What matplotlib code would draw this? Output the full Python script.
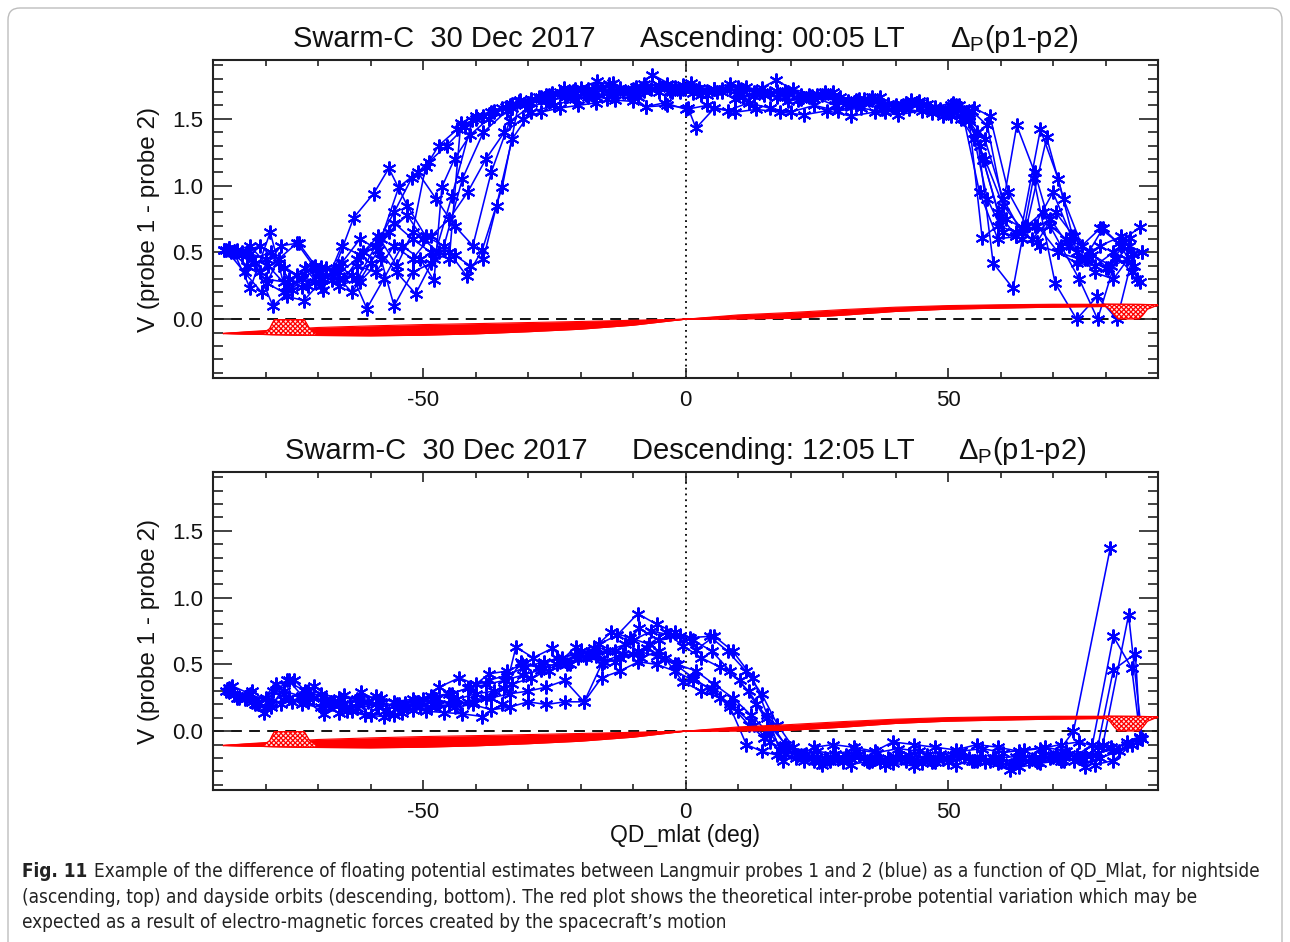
import numpy as np
import matplotlib
matplotlib.use('Agg')
import matplotlib.pyplot as plt
from matplotlib.patches import FancyBboxPatch
from matplotlib.transforms import IdentityTransform
from matplotlib import font_manager
from matplotlib.font_manager import FontProperties

# ---------------- DATA ----------------
# Ascending orbits (top panel): latitude (deg) and V (probe1 - probe2)
asc_lat_1 = [-88.0, -84.5, -81.0, -77.5, -74.0, -70.5, -67.0, -63.2, -59.4, -56.5, -53.0, -49.5, -46.0, -42.5, -38.5, -34.0, -30.0, -26.0, -21.5, -17.0, -12.5, -8.0, -3.5, 1.0, 5.5, 10.0, 14.5, 19.0, 23.5, 28.0, 32.5, 37.0, 41.5, 46.0, 50.0, 53.0, 56.0, 59.5, 63.0, 66.5, 70.0, 73.5, 77.0, 80.5, 84.0, 87.0]
asc_v_1 = [0.52, 0.50, 0.55, 0.42, 0.33, 0.28, 0.36, 0.76, 0.94, 1.13, 0.85, 0.62, 0.55, 1.05, 1.40, 1.56, 1.62, 1.68, 1.71, 1.74, 1.72, 1.76, 1.75, 1.77, 1.72, 1.74, 1.70, 1.71, 1.66, 1.67, 1.64, 1.62, 1.60, 1.58, 1.56, 1.50, 0.95, 0.60, 0.62, 0.70, 0.95, 0.62, 0.50, 0.38, 0.45, 0.50]
asc_lat_2 = [-87.0, -83.2, -79.8, -76.5, -73.0, -69.5, -66.0, -62.5, -59.0, -55.5, -52.1, -48.8, -45.5, -42.0, -38.5, -35.0, -31.5, -27.5, -23.1, -19.0, -14.5, -10.0, -6.3, -2.0, 2.5, 7.0, 11.5, 16.0, 20.5, 25.0, 29.5, 34.0, 38.5, 43.0, 47.5, 51.0, 54.0, 57.0, 60.5, 64.0, 67.6, 71.0, 74.5, 78.0, 81.5, 85.0]
asc_v_2 = [0.53, 0.49, 0.27, 0.20, 0.31, 0.39, 0.25, 0.30, 0.55, 0.80, 1.06, 1.18, 1.30, 1.44, 1.52, 1.58, 1.64, 1.66, 1.73, 1.70, 1.76, 1.72, 1.83, 1.74, 1.73, 1.70, 1.74, 1.69, 1.72, 1.68, 1.66, 1.65, 1.61, 1.64, 1.59, 1.62, 1.48, 1.20, 0.85, 0.68, 1.42, 1.05, 0.50, 0.35, 0.30, 0.49]
asc_lat_3 = [-86.0, -82.9, -79.1, -75.9, -72.7, -69.0, -65.5, -62.0, -58.5, -55.0, -51.4, -48.0, -44.5, -40.6, -37.0, -33.5, -30.0, -26.6, -22.5, -18.5, -14.0, -9.5, -5.0, -0.5, 4.0, 8.5, 13.0, 17.3, 22.0, 26.5, 31.0, 35.5, 40.0, 44.5, 48.5, 52.0, 55.0, 58.0, 61.5, 65.0, 68.8, 72.0, 75.5, 79.0, 82.5, 86.6]
asc_v_3 = [0.50, 0.23, 0.65, 0.17, 0.14, 0.30, 0.42, 0.60, 0.52, 0.35, 0.19, 0.45, 0.92, 1.49, 1.55, 1.60, 1.62, 1.68, 1.67, 1.72, 1.69, 1.74, 1.70, 1.75, 1.71, 1.76, 1.70, 1.79, 1.68, 1.70, 1.63, 1.66, 1.58, 1.62, 1.57, 1.60, 1.58, 1.52, 0.95, 0.70, 1.36, 0.90, 0.55, 0.68, 0.57, 0.69]
asc_lat_4 = [-85.5, -82.0, -78.6, -75.0, -71.2, -67.4, -63.5, -60.7, -57.5, -54.0, -50.5, -47.9, -46.4, -44.0, -41.0, -37.5, -34.2, -30.5, -26.5, -22.0, -17.5, -13.9, -9.5, -5.0, -0.5, 4.0, 8.5, 13.0, 17.5, 22.0, 26.5, 31.0, 35.5, 40.0, 44.5, 49.0, 52.5, 55.5, 58.6, 62.4, 66.3, 70.4, 74.5, 78.4, 82.2, 85.3]
asc_v_4 = [0.52, 0.42, 0.10, 0.22, 0.39, 0.29, 0.33, 0.08, 0.30, 0.55, 0.45, 0.29, 0.99, 1.20, 1.38, 1.50, 1.59, 1.60, 1.65, 1.70, 1.71, 1.77, 1.69, 1.75, 1.72, 1.68, 1.73, 1.67, 1.71, 1.65, 1.69, 1.62, 1.64, 1.60, 1.63, 1.55, 1.57, 1.40, 0.42, 0.23, 1.06, 0.27, 0.00, 0.17, 0.00, 0.49]
asc_lat_5 = [-87.5, -84.0, -80.7, -77.5, -74.0, -70.0, -66.0, -62.0, -58.0, -55.5, -52.0, -48.5, -45.0, -41.6, -38.7, -34.9, -31.7, -28.0, -24.0, -20.0, -16.0, -12.0, -7.5, -3.0, 1.5, 6.0, 10.5, 15.0, 19.5, 24.0, 28.5, 33.0, 37.5, 42.0, 46.5, 50.5, 53.6, 56.7, 60.0, 63.1, 66.5, 69.5, 72.5, 76.0, 79.5, 83.0, 86.5]
asc_v_5 = [0.52, 0.35, 0.20, 0.45, 0.57, 0.35, 0.40, 0.28, 0.45, 0.10, 0.35, 0.42, 0.50, 0.32, 0.52, 0.99, 1.63, 1.66, 1.70, 1.73, 1.72, 1.70, 1.74, 1.71, 1.73, 1.70, 1.72, 1.68, 1.70, 1.66, 1.64, 1.65, 1.60, 1.62, 1.58, 1.60, 1.55, 1.19, 0.75, 1.45, 1.10, 0.70, 0.60, 0.45, 0.68, 0.55, 0.28]
asc_lat_6 = [-86.5, -83.0, -79.5, -76.0, -72.5, -69.0, -65.5, -62.0, -58.5, -55.0, -52.0, -49.5, -47.0, -43.5, -40.0, -36.5, -33.0, -29.5, -25.5, -21.0, -16.8, -12.5, -8.0, -3.5, 1.0, 5.5, 10.0, 14.5, 19.0, 23.5, 28.0, 32.5, 37.0, 41.5, 46.0, 50.0, 53.0, 56.0, 59.5, 63.0, 67.0, 71.0, 75.0, 79.0, 83.0, 86.0]
asc_v_6 = [0.50, 0.55, 0.40, 0.25, 0.38, 0.22, 0.55, 0.48, 0.62, 0.40, 0.65, 1.14, 1.30, 1.42, 1.50, 1.55, 1.61, 1.65, 1.69, 1.72, 1.78, 1.73, 1.71, 1.76, 1.74, 1.72, 1.69, 1.73, 1.66, 1.68, 1.70, 1.60, 1.66, 1.58, 1.61, 1.57, 1.55, 1.30, 0.80, 0.62, 0.70, 0.50, 0.45, 0.55, 0.62, 0.30]
asc_lat_7 = [-88.0, -84.5, -81.0, -77.0, -73.7, -70.5, -67.0, -63.5, -60.0, -56.5, -53.0, -50.0, -47.0, -44.0, -41.0, -38.5, -36.0, -33.0, -29.5, -25.0, -21.0, -17.0, -13.0, -9.0, -5.0, -1.0, 3.0, 7.0, 11.0, 15.0, 19.5, 24.0, 28.5, 33.0, 37.5, 42.0, 46.5, 50.5, 54.0, 56.5, 59.5, 63.0, 66.0, 69.5, 73.0, 76.5, 80.0, 84.7]
asc_v_7 = [0.52, 0.48, 0.35, 0.55, 0.57, 0.40, 0.35, 0.20, 0.42, 0.65, 0.78, 0.60, 0.50, 0.48, 0.40, 0.45, 0.85, 1.35, 1.55, 1.60, 1.65, 1.66, 1.70, 1.66, 1.73, 1.70, 1.68, 1.72, 1.66, 1.69, 1.63, 1.67, 1.60, 1.63, 1.57, 1.60, 1.58, 1.52, 1.50, 0.61, 0.70, 0.65, 0.60, 0.75, 0.55, 0.45, 0.38, 0.61]
asc_lat_8 = [-87.0, -83.5, -80.0, -76.5, -73.0, -69.5, -66.0, -62.5, -59.0, -55.5, -52.0, -48.5, -45.0, -42.8, -40.0, -36.5, -33.0, -29.5, -26.0, -22.5, -18.5, -14.5, -10.5, -6.5, -2.5, 1.5, 5.5, 9.5, 13.5, 17.5, 21.5, 26.0, 30.5, 35.0, 39.5, 44.0, 48.0, 51.5, 54.5, 57.5, 61.0, 64.5, 68.0, 71.5, 75.0, 78.5, 82.0, 85.5]
asc_v_8 = [0.53, 0.50, 0.45, 0.38, 0.30, 0.25, 0.35, 0.45, 0.55, 0.72, 0.60, 0.50, 0.45, 1.47, 1.52, 1.56, 1.58, 1.62, 1.64, 1.67, 1.66, 1.70, 1.68, 1.72, 1.70, 1.69, 1.72, 1.65, 1.70, 1.66, 1.64, 1.68, 1.61, 1.64, 1.59, 1.62, 1.56, 1.60, 1.56, 1.45, 0.75, 0.68, 0.80, 0.55, 0.30, 0.00, 0.45, 0.40]
asc_lat_9 = [-86.0, -82.5, -79.0, -75.5, -72.0, -68.5, -65.0, -61.5, -58.0, -54.6, -51.0, -47.5, -44.0, -40.5, -37.0, -33.5, -30.0, -26.5, -23.0, -19.0, -15.0, -11.0, -7.5, -4.0, 0.1, 4.0, 8.0, 12.0, 16.0, 20.0, 24.5, 29.0, 33.5, 38.0, 42.5, 47.0, 51.0, 54.0, 57.0, 60.5, 64.0, 67.0, 70.5, 74.0, 77.5, 81.0, 84.5, 87.0]
asc_v_9 = [0.50, 0.45, 0.50, 0.30, 0.25, 0.38, 0.30, 0.50, 0.60, 0.99, 1.10, 0.90, 0.70, 0.55, 1.10, 1.48, 1.58, 1.63, 1.66, 1.68, 1.65, 1.69, 1.59, 1.62, 1.57, 1.60, 1.56, 1.62, 1.58, 1.55, 1.60, 1.56, 1.58, 1.55, 1.57, 1.54, 1.56, 1.52, 1.35, 0.90, 0.65, 0.58, 0.80, 0.62, 0.48, 0.40, 0.55, 0.50]
asc_lat_10 = [-87.0, -83.5, -80.0, -76.5, -73.0, -69.5, -66.0, -62.5, -59.0, -55.5, -52.0, -48.5, -45.0, -41.5, -38.0, -34.5, -31.0, -27.5, -24.0, -20.5, -17.0, -13.5, -10.0, -7.5, -3.5, 0.5, 2.0, 5.5, 9.5, 13.5, 18.0, 22.5, 27.0, 31.5, 36.0, 40.5, 45.0, 49.0, 52.5, 55.0, 57.5, 60.5, 64.0, 67.5, 71.0, 74.5, 78.0, 81.5, 85.0]
asc_v_10 = [0.52, 0.40, 0.30, 0.28, 0.24, 0.35, 0.30, 0.40, 0.35, 0.55, 0.45, 0.62, 0.75, 0.95, 1.20, 1.40, 1.50, 1.55, 1.58, 1.60, 1.62, 1.64, 1.63, 1.59, 1.60, 1.58, 1.43, 1.58, 1.55, 1.57, 1.55, 1.53, 1.56, 1.52, 1.55, 1.53, 1.56, 1.52, 1.50, 1.35, 0.90, 0.65, 0.60, 0.55, 0.50, 0.42, 0.40, 0.50, 0.35]

# Descending orbits (bottom panel)
desc_lat_1 = [-86.4, -83.0, -79.5, -76.0, -72.5, -69.0, -65.5, -62.0, -58.5, -55.0, -51.5, -48.0, -44.5, -41.0, -37.5, -34.0, -30.5, -27.0, -23.5, -20.0, -16.5, -13.0, -9.1, -5.5, -2.0, 1.5, 5.0, 8.5, 12.0, 15.5, 19.0, 22.5, 26.5, 30.5, 34.5, 38.5, 42.5, 46.5, 50.5, 54.5, 58.5, 62.5, 66.5, 70.5, 73.9, 80.9]
desc_v_1 = [0.34, 0.28, 0.22, 0.38, 0.30, 0.22, 0.20, 0.25, 0.18, 0.20, 0.22, 0.25, 0.28, 0.33, 0.38, 0.42, 0.48, 0.52, 0.55, 0.60, 0.65, 0.72, 0.88, 0.80, 0.74, 0.68, 0.60, 0.45, 0.30, 0.10, -0.10, -0.18, -0.20, -0.18, -0.22, -0.20, -0.18, -0.21, -0.19, -0.22, -0.20, -0.24, -0.21, -0.18, 0.00, 1.37]
desc_lat_2 = [-85.0, -81.5, -78.0, -74.5, -71.0, -67.5, -64.0, -60.5, -57.0, -53.5, -50.0, -46.9, -43.1, -40.0, -37.4, -34.0, -31.1, -28.0, -24.5, -21.0, -17.5, -14.2, -10.5, -7.0, -3.7, -0.5, 3.0, 6.5, 10.3, 13.5, 16.5, 19.5, 23.0, 27.0, 31.0, 35.0, 39.0, 43.0, 47.0, 51.0, 55.0, 59.0, 63.0, 67.0, 71.0, 74.5, 77.5, 81.5, 85.0, 86.6]
desc_v_2 = [0.25, 0.20, 0.35, 0.38, 0.25, 0.20, 0.18, 0.22, 0.16, 0.21, 0.24, 0.33, 0.40, 0.35, 0.43, 0.45, 0.50, 0.48, 0.55, 0.57, 0.62, 0.74, 0.70, 0.65, 0.74, 0.64, 0.55, 0.48, 0.38, 0.20, 0.02, -0.12, -0.17, -0.21, -0.19, -0.23, -0.21, -0.20, -0.23, -0.18, -0.22, -0.20, -0.19, -0.23, -0.20, -0.18, -0.10, 0.71, 0.47, -0.04]
desc_lat_3 = [-87.5, -84.0, -80.3, -77.0, -73.5, -70.8, -67.0, -63.5, -60.0, -56.5, -53.0, -49.5, -46.0, -42.5, -38.7, -35.0, -32.3, -29.0, -25.4, -22.0, -18.5, -15.0, -11.5, -8.8, -5.0, -1.1, 2.0, 5.5, 9.0, 12.8, 15.6, 18.6, 22.0, 25.5, 29.0, 33.0, 37.0, 41.0, 45.0, 49.0, 53.0, 57.0, 61.8, 65.5, 69.5, 73.0, 76.1, 79.5, 84.4, 87.0]
desc_v_3 = [0.30, 0.24, 0.14, 0.20, 0.25, 0.34, 0.22, 0.15, 0.12, 0.14, 0.18, 0.15, 0.14, 0.13, 0.11, 0.20, 0.63, 0.55, 0.62, 0.50, 0.58, 0.60, 0.65, 0.77, 0.68, 0.71, 0.61, 0.71, 0.60, 0.40, 0.12, -0.22, -0.18, -0.23, -0.20, -0.17, -0.22, -0.19, -0.24, -0.21, -0.19, -0.23, -0.29, -0.22, -0.20, -0.17, -0.27, -0.10, 0.87, -0.06]
desc_lat_4 = [-86.0, -82.5, -79.0, -75.6, -72.0, -68.9, -65.0, -61.9, -58.0, -54.5, -51.0, -47.5, -44.0, -40.5, -37.0, -33.5, -30.0, -26.5, -23.0, -19.3, -16.0, -12.5, -9.0, -5.5, -2.0, 1.5, 5.0, 8.5, 11.6, 14.5, 17.5, 21.0, 24.5, 28.1, 32.0, 36.0, 39.5, 43.5, 47.5, 51.5, 55.5, 59.5, 63.5, 67.5, 71.5, 75.0, 78.5, 81.5, 85.7, 86.6]
desc_v_4 = [0.28, 0.22, 0.18, 0.38, 0.22, 0.13, 0.20, 0.29, 0.22, 0.18, 0.22, 0.20, 0.18, 0.20, 0.16, 0.18, 0.22, 0.20, 0.22, 0.22, 0.50, 0.55, 0.60, 0.56, 0.50, 0.40, 0.30, 0.18, -0.10, -0.15, -0.18, -0.20, -0.12, -0.10, -0.12, -0.15, -0.08, -0.10, -0.12, -0.14, -0.10, -0.12, -0.15, -0.13, -0.10, -0.08, -0.12, 0.46, 0.58, -0.04]
desc_lat_5 = [-87.0, -83.5, -80.0, -76.5, -73.0, -69.5, -66.0, -62.5, -59.0, -55.5, -52.0, -48.5, -45.0, -41.5, -38.0, -34.5, -31.4, -28.0, -24.5, -20.9, -17.0, -13.5, -10.0, -7.3, -4.0, -0.5, 3.0, 6.5, 10.0, 13.0, 16.0, 19.0, 22.5, 26.0, 30.0, 34.0, 38.0, 42.0, 46.0, 50.0, 54.0, 58.0, 62.0, 66.0, 70.0, 74.0, 77.5, 81.0, 84.0, 86.5]
desc_v_5 = [0.32, 0.26, 0.18, 0.28, 0.20, 0.18, 0.14, 0.17, 0.20, 0.12, 0.16, 0.18, 0.20, 0.22, 0.25, 0.32, 0.52, 0.48, 0.50, 0.63, 0.56, 0.52, 0.58, 0.62, 0.55, 0.37, 0.30, 0.25, 0.15, 0.05, -0.08, -0.17, -0.22, -0.25, -0.23, -0.20, -0.25, -0.22, -0.18, -0.23, -0.20, -0.22, -0.25, -0.21, -0.19, -0.22, -0.18, -0.12, -0.10, -0.05]
desc_lat_6 = [-85.5, -82.0, -78.5, -75.0, -71.5, -68.0, -64.5, -61.0, -57.4, -54.0, -50.5, -47.0, -43.5, -40.0, -36.5, -33.0, -29.5, -26.0, -22.5, -19.0, -15.5, -12.0, -8.5, -5.0, -1.5, 2.0, 5.5, 9.0, 12.5, 15.5, 18.5, 21.5, 25.0, 28.5, 32.5, 36.5, 40.5, 44.5, 48.5, 52.5, 56.5, 60.5, 64.5, 68.5, 72.5, 76.0, 79.0, 82.5, 86.0]
desc_v_6 = [0.25, 0.20, 0.30, 0.22, 0.28, 0.20, 0.15, 0.12, 0.11, 0.14, 0.18, 0.20, 0.24, 0.28, 0.30, 0.35, 0.40, 0.45, 0.50, 0.55, 0.52, 0.58, 0.55, 0.60, 0.50, 0.45, 0.35, 0.25, 0.12, 0.00, -0.12, -0.18, -0.15, -0.17, -0.14, -0.16, -0.13, -0.15, -0.17, -0.15, -0.13, -0.16, -0.14, -0.12, -0.15, -0.18, -0.20, -0.15, -0.08]
desc_lat_7 = [-87.0, -83.5, -80.0, -76.5, -73.0, -69.5, -66.0, -62.5, -59.0, -55.5, -52.0, -48.5, -45.0, -41.5, -38.0, -34.5, -31.0, -27.5, -24.0, -20.5, -17.0, -13.5, -10.0, -6.5, -3.0, 0.8, 4.6, 8.0, 11.5, 14.5, 17.5, 20.5, 24.0, 27.5, 31.5, 35.5, 39.5, 43.5, 47.5, 51.5, 55.5, 59.5, 63.5, 67.5, 71.5, 75.0, 78.0, 81.5, 85.0]
desc_v_7 = [0.30, 0.26, 0.25, 0.30, 0.26, 0.28, 0.25, 0.24, 0.26, 0.22, 0.24, 0.26, 0.28, 0.32, 0.35, 0.38, 0.42, 0.46, 0.52, 0.55, 0.58, 0.60, 0.68, 0.75, 0.72, 0.70, 0.71, 0.60, 0.45, 0.28, 0.05, -0.12, -0.20, -0.22, -0.25, -0.22, -0.24, -0.26, -0.23, -0.25, -0.22, -0.24, -0.27, -0.24, -0.22, -0.20, -0.25, -0.22, -0.10]
desc_lat_8 = [-86.0, -82.5, -79.0, -75.5, -72.0, -68.5, -65.0, -61.5, -58.0, -54.5, -51.0, -47.5, -44.0, -40.5, -37.0, -33.5, -30.0, -26.5, -23.0, -19.3, -16.0, -12.5, -9.0, -5.5, -2.0, 1.5, 5.0, 8.5, 12.0, 15.0, 18.0, 21.0, 24.5, 28.0, 32.0, 36.0, 40.0, 44.0, 48.0, 52.0, 56.0, 60.0, 64.0, 68.0, 72.0, 75.5, 78.5, 81.5, 84.0, 86.5]
desc_v_8 = [0.27, 0.30, 0.20, 0.25, 0.30, 0.24, 0.27, 0.22, 0.25, 0.20, 0.22, 0.24, 0.20, 0.22, 0.25, 0.28, 0.30, 0.33, 0.38, 0.22, 0.40, 0.45, 0.52, 0.50, 0.45, 0.38, 0.32, 0.20, 0.05, -0.05, -0.14, -0.18, -0.22, -0.20, -0.18, -0.21, -0.19, -0.22, -0.20, -0.17, -0.20, -0.23, -0.20, -0.18, -0.22, -0.20, -0.16, -0.14, -0.08, -0.04]

# Theoretical inter-probe potential (red), several orbits
red_lat = [-88, -84, -78, -70, -60, -50, -40, -30, -20, -10, 0, 10, 20, 30, 40, 50, 60, 70, 80, 88, 90]
red_v_1 = [-0.107, -0.112, -0.116, -0.122, -0.125, -0.120, -0.110, -0.094, -0.075, -0.045, 0.000, 0.032, 0.050, 0.072, 0.090, 0.102, 0.108, 0.112, 0.112, 0.110, 0.108]
red_v_2 = [-0.107, -0.110, -0.110, -0.112, -0.113, -0.108, -0.098, -0.083, -0.065, -0.038, 0.000, 0.026, 0.042, 0.064, 0.084, 0.097, 0.104, 0.108, 0.110, 0.108, 0.106]
red_v_3 = [-0.107, -0.106, -0.104, -0.102, -0.100, -0.094, -0.085, -0.071, -0.055, -0.031, 0.000, 0.020, 0.034, 0.056, 0.078, 0.092, 0.100, 0.105, 0.107, 0.106, 0.105]
red_v_4 = [-0.107, -0.103, -0.097, -0.090, -0.086, -0.079, -0.070, -0.058, -0.044, -0.024, 0.000, 0.014, 0.026, 0.048, 0.072, 0.087, 0.095, 0.101, 0.104, 0.104, 0.104]
red_v_5 = [-0.107, -0.100, -0.090, -0.078, -0.072, -0.064, -0.056, -0.045, -0.033, -0.017, 0.000, 0.009, 0.018, 0.040, 0.066, 0.082, 0.090, 0.097, 0.101, 0.102, 0.103]
red_v_6 = [-0.107, -0.097, -0.085, -0.070, -0.060, -0.051, -0.044, -0.035, -0.025, -0.012, 0.000, 0.005, 0.012, 0.035, 0.062, 0.078, 0.086, 0.093, 0.098, 0.101, 0.102]
red_v_7 = [-0.107, -0.095, -0.080, -0.062, -0.050, -0.040, -0.033, -0.025, -0.017, -0.008, 0.000, 0.002, 0.007, 0.030, 0.058, 0.075, 0.083, 0.090, 0.095, 0.100, 0.102]

# Oscillating (hatched) parts of the theoretical curves
bump_s_lat = [-80.2, -79.2, -78.7, -78.3, -72.6, -72.2, -71.6, -70.4]
bump_s_top = [-0.100, -0.070, -0.030, -0.003, -0.003, -0.030, -0.070, -0.103]
bump_s_bot = [-0.114, -0.115, -0.116, -0.116, -0.119, -0.120, -0.120, -0.121]
bump_n_lat = [79.6, 80.8, 81.7, 82.4, 86.4, 87.1, 88.0, 89.8]
bump_n_top = [0.112, 0.112, 0.112, 0.112, 0.111, 0.110, 0.109, 0.108]
bump_n_bot = [0.106, 0.075, 0.030, 0.002, 0.002, 0.030, 0.075, 0.103]

x_ticks = [-50, 0, 50]
x_ticklabels = ['-50', '0', '50']
y_ticks = [0.0, 0.5, 1.0, 1.5]
y_ticklabels = ['0.0', '0.5', '1.0', '1.5']

asc_orbits = [(asc_lat_1, asc_v_1), (asc_lat_2, asc_v_2), (asc_lat_3, asc_v_3), (asc_lat_4, asc_v_4),
              (asc_lat_5, asc_v_5), (asc_lat_6, asc_v_6), (asc_lat_7, asc_v_7), (asc_lat_8, asc_v_8),
              (asc_lat_9, asc_v_9), (asc_lat_10, asc_v_10)]
desc_orbits = [(desc_lat_1, desc_v_1), (desc_lat_2, desc_v_2), (desc_lat_3, desc_v_3), (desc_lat_4, desc_v_4),
               (desc_lat_5, desc_v_5), (desc_lat_6, desc_v_6), (desc_lat_7, desc_v_7), (desc_lat_8, desc_v_8)]
red_curves = [red_v_1, red_v_2, red_v_3, red_v_4, red_v_5, red_v_6, red_v_7]

# ---------------- FIGURE ----------------
plt.rcParams['font.family'] = ['Liberation Sans', 'DejaVu Sans']
plt.rcParams['mathtext.fontset'] = 'custom'
plt.rcParams['mathtext.rm'] = 'Liberation Sans'
plt.rcParams['hatch.linewidth'] = 0.9

W, H = 1290, 942
fig = plt.figure(figsize=(W / 100, H / 100), dpi=100)
ax1 = fig.add_axes([213 / W, 1 - 378 / H, 945 / W, 318 / H])
ax2 = fig.add_axes([213 / W, 1 - 790 / H, 945 / W, 318 / H])

asterisk = (6, 2, 0)
TXT = '#111111'

def draw_panel(ax, orbits):
    ax.set_xlim(-90, 90)
    ax.set_ylim(-0.44, 1.94)
    ax.axhline(0, color='black', lw=1.3, ls=(0, (6, 4)), zorder=1)
    ax.axvline(0, color='black', lw=1.3, ls=(0, (1, 2.2)), zorder=1)
    for lat, v in orbits:
        ax.plot(lat, v, color='#0000ff', lw=1.15, marker=asterisk, ms=10, mew=1.45, zorder=2)
    arr = np.array(red_curves)
    ax.fill_between(red_lat, arr.min(axis=0), arr.max(axis=0), color='red', lw=0, zorder=3)
    for rv in red_curves:
        ax.plot(red_lat, rv, color='red', lw=0.8, zorder=3)
    for blat, btop, bbot in [(bump_s_lat, bump_s_top, bump_s_bot), (bump_n_lat, bump_n_top, bump_n_bot)]:
        ax.fill_between(blat, bbot, btop, facecolor='#ffe6e6', edgecolor='red', hatch='xxxxxxx', lw=0.3, zorder=3)
        ax.plot(blat, btop, color='red', lw=0.9, zorder=3)
        ax.plot(blat, bbot, color='red', lw=0.9, zorder=3)
    ax.set_xticks(x_ticks)
    ax.set_xticklabels(x_ticklabels)
    ax.set_xticks(np.arange(-80, 81, 10), minor=True)
    ax.set_yticks(y_ticks)
    ax.set_yticklabels(y_ticklabels)
    ax.set_yticks(np.arange(-0.4, 1.95, 0.1), minor=True)
    ax.tick_params(which='both', direction='in', top=True, right=True, width=1.2, colors='#222222')
    ax.tick_params(axis='x', which='major', length=7, pad=9, labelsize=16, labelcolor=TXT)
    ax.tick_params(axis='x', which='minor', length=4)
    ax.tick_params(axis='y', which='major', length=14, pad=7, labelsize=16, labelcolor=TXT)
    ax.tick_params(axis='y', which='minor', length=7.5)
    for s in ax.spines.values():
        s.set_linewidth(1.5)
        s.set_color('#222222')
    ax.set_ylabel('V (probe 1 - probe 2)', fontsize=17.5, color=TXT)
    ax.yaxis.set_label_coords(-0.056, 0.5)

draw_panel(ax1, asc_orbits)
draw_panel(ax2, desc_orbits)
ax2.set_xlabel('QD_mlat (deg)', fontsize=16.5, color=TXT)
ax2.xaxis.set_label_coords(0.5, -0.108)

def title_row(y_base, parts):
    for x, s in parts:
        fig.text(x / W, 1 - y_base / H, s, ha='left', va='baseline', fontsize=21, color=TXT)

title_row(47, [(293, 'Swarm-C  30 Dec 2017'), (640, 'Ascending: 00:05 LT'), (950, r'$\Delta_\mathrm{P}$(p1-p2)')])
title_row(459, [(285, 'Swarm-C  30 Dec 2017'), (632, 'Descending: 12:05 LT'), (958, r'$\Delta_\mathrm{P}$(p1-p2)')])

# Border frame
frame = FancyBboxPatch((8, -30), 1274, 964, boxstyle='round,pad=0,rounding_size=12',
                       transform=IdentityTransform(), facecolor='none', edgecolor='#bdbdbd', lw=1.0)
fig.add_artist(frame)

# Caption font: prefer a condensed sans face if one is installed
def find_face(bold):
    best = None
    for f in font_manager.fontManager.ttflist:
        fn = f.fname.lower()
        cond = ('condensed' in fn or 'narrow' in fn or str(f.stretch) in ('condensed', 'semi-condensed')
                or (isinstance(f.stretch, int) and f.stretch < 500))
        if not cond or 'italic' in fn or 'oblique' in fn or 'mono' in fn or 'serif' in f.name.lower():
            continue
        if 'extra' in fn or 'ultra' in fn or 'semi' in fn or 'light' in fn or 'thin' in fn or 'black' in fn or 'medium' in fn:
            continue
        isbold = 'bold' in fn or (isinstance(f.weight, int) and f.weight >= 600) or f.weight == 'bold'
        if isbold != bold:
            continue
        score = 0 if ('noto' in fn or 'liberation' in fn) else 1
        if best is None or score < best[0]:
            best = (score, f.fname)
    return best[1] if best else None

reg = find_face(False)
bld = find_face(True)
cap_reg = FontProperties(fname=reg) if reg else FontProperties(family='Liberation Sans')
cap_bld = FontProperties(fname=bld) if bld else FontProperties(family='Liberation Sans', weight='bold')

cap_size = 13.5
CAP = '#222222'
c0 = fig.text(22 / W, 1 - 877 / H, 'Fig. 11', fontproperties=cap_bld, color=CAP, va='baseline')
c1 = fig.text(88 / W, 1 - 877 / H, 'Example of the difference of floating potential estimates between Langmuir probes 1 and 2 (blue) as a function of QD_Mlat, for nightside',
              fontproperties=cap_reg, color=CAP, va='baseline')
c2 = fig.text(22 / W, 1 - 903 / H, '(ascending, top) and dayside orbits (descending, bottom). The red plot shows the theoretical inter-probe potential variation which may be',
              fontproperties=cap_reg, color=CAP, va='baseline')
c3 = fig.text(22 / W, 1 - 928 / H, 'expected as a result of electro-magnetic forces created by the spacecraft\u2019s motion',
              fontproperties=cap_reg, color=CAP, va='baseline')
for t in (c0, c1, c2, c3):
    t.set_fontsize(cap_size)
# fit caption size to the reference layout (line 2 spans x = 22 .. 1193 px)
renderer = fig.canvas.get_renderer()
w2 = c2.get_window_extent(renderer).width
scale = (1193 - 22) / w2
for t in (c0, c1, c2, c3):
    t.set_fontsize(cap_size * scale)
renderer = fig.canvas.get_renderer()
x0_end = c0.get_window_extent(renderer).x1
c1.set_x((x0_end + 7) / W)

fig.savefig('out.png', dpi=100)
